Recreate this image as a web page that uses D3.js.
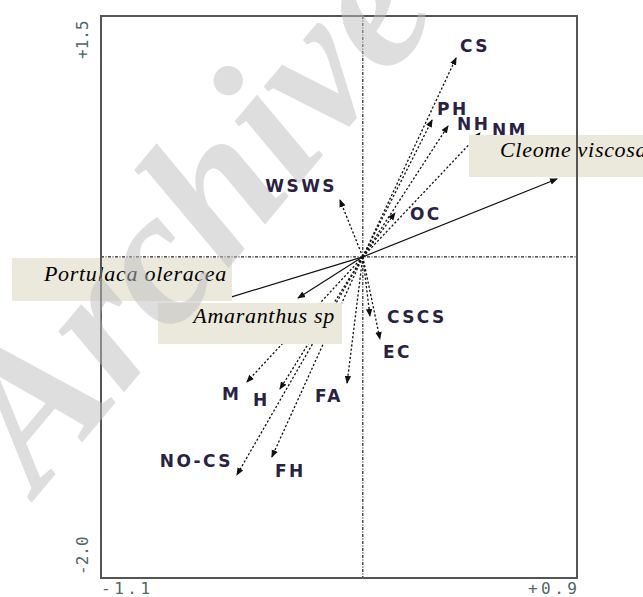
<!DOCTYPE html>
<html><head><meta charset="utf-8">
<script src="https://cdn.jsdelivr.net/npm/d3@7"></script>
<style>html,body{margin:0;padding:0;background:#fff;} svg{display:block}</style>
</head><body>
<script>
// CCA ordination biplot: soil variables (dotted arrows) and weed species (solid arrows)
const envNames = ["CS","PH","NH","NM","OC","WSWS","CSCS","EC","M","H","FA","NO-CS","FH"];
const envX = [0.392, 0.291, 0.358, 0.492, 0.135, -0.096, 0.030, 0.072, -0.487, -0.348, -0.066, -0.529, -0.382];
const envY = [1.239, 0.852, 0.815, 0.771, 0.273, 0.354, -0.368, -0.511, -0.779, -0.823, -0.785, -1.358, -1.246];

const speciesNames = ["Cleome viscosa", "Portulaca oleracea", "Amaranthus sp"];
const speciesX = [0.816, -0.592, -0.272];
const speciesY = [0.485, -0.268, -0.256];

const xDomain = [-1.1, 0.9];
const yDomain = [-2.0, 1.5];
const xTickLabels = ["-1.1", "+0.9"];
const yTickLabels = ["-2.0", "+1.5"];

// label placement relative to each arrow tip: [dx, dy, anchor]
const envLabelPos = [
  [4, -6, "start"], [5, -5, "start"], [9, 4, "start"], [12, 3, "start"],
  [15, 7, "start"], [-3, -8, "end"], [17, 7, "start"], [3, 19, "start"],
  [-25, 18, "start"], [-27, 17, "start"], [-32, 19, "start"], [-4, -8, "end"],
  [3, 20, "start"]
];
// species label boxes: [x, y, w, h, textX, textY, anchor]
const speciesBoxes = [
  [469, 135, 200, 42, 500, 157, "start"],
  [12, 258, 220, 43, 227, 281, "end"],
  [158, 303, 184, 41, 335, 323, "end"]
];

const W = 643, H = 597;
const svg = d3.select("body").append("svg").attr("width", W).attr("height", H);

const x = d3.scaleLinear().domain(xDomain).range([101, 577]);
const y = d3.scaleLinear().domain(yDomain).range([578, 16]);

const defs = svg.append("defs");
defs.append("marker").attr("id", "head")
  .attr("viewBox", "0 -4 8 8").attr("refX", 7).attr("refY", 0)
  .attr("markerWidth", 8).attr("markerHeight", 8)
  .attr("markerUnits", "userSpaceOnUse").attr("orient", "auto")
  .append("path").attr("d", "M0,-3.2L8,0L0,3.2Z").attr("fill", "#111");

// zero axes through the origin
svg.append("line")
  .attr("x1", x(0)).attr("x2", x(0)).attr("y1", y(yDomain[1])).attr("y2", y(yDomain[0]))
  .attr("stroke", "#222").attr("stroke-width", 1.2).attr("stroke-dasharray", "3,1.5,1,1.5");
svg.append("line")
  .attr("x1", x(xDomain[0])).attr("x2", x(xDomain[1])).attr("y1", y(0)).attr("y2", y(0))
  .attr("stroke", "#222").attr("stroke-width", 1.2).attr("stroke-dasharray", "3,1.5,1,1.5");

// environmental variable arrows
const env = envNames.map((n, i) => ({ name: n, x: envX[i], y: envY[i], pos: envLabelPos[i] }));
svg.append("g").selectAll("line").data(env).join("line")
  .attr("x1", x(0)).attr("y1", y(0))
  .attr("x2", d => x(d.x)).attr("y2", d => y(d.y))
  .attr("stroke", "#111").attr("stroke-width", 1.3)
  .attr("stroke-dasharray", "2.2,2")
  .attr("marker-end", "url(#head)");

svg.append("g").selectAll("text").data(env).join("text")
  .attr("x", d => x(d.x) + d.pos[0]).attr("y", d => y(d.y) + d.pos[1])
  .attr("text-anchor", d => d.pos[2])
  .attr("font-family", "DejaVu Sans").attr("font-weight", "bold")
  .attr("font-size", 17).attr("letter-spacing", 2.4)
  .attr("fill", "#2a2245")
  .text(d => d.name);

// species arrows
const species = speciesNames.map((n, i) => ({ name: n, x: speciesX[i], y: speciesY[i], box: speciesBoxes[i] }));
svg.append("g").selectAll("line").data(species).join("line")
  .attr("x1", x(0)).attr("y1", y(0))
  .attr("x2", d => x(d.x)).attr("y2", d => y(d.y))
  .attr("stroke", "#111").attr("stroke-width", 1.2)
  .attr("marker-end", "url(#head)");

const sp = svg.append("g").selectAll("g").data(species).join("g");
sp.append("rect")
  .attr("x", d => d.box[0]).attr("y", d => d.box[1])
  .attr("width", d => d.box[2]).attr("height", d => d.box[3])
  .attr("fill", "#ebe8dc");
sp.append("text")
  .attr("x", d => d.box[4]).attr("y", d => d.box[5])
  .attr("text-anchor", d => d.box[6])
  .attr("font-family", "'Liberation Serif', 'Times New Roman', serif").attr("font-style", "italic")
  .attr("font-size", 22).attr("letter-spacing", 0.7).attr("fill", "#000")
  .text(d => d.name);

// plot frame
svg.append("rect")
  .attr("x", x(xDomain[0])).attr("y", y(yDomain[1]))
  .attr("width", x(xDomain[1]) - x(xDomain[0])).attr("height", y(yDomain[0]) - y(yDomain[1]))
  .attr("fill", "none").attr("stroke", "#555").attr("stroke-width", 2);

// axis extent labels
const tickStyle = s => s.attr("font-family", "'DejaVu Sans Mono'").attr("font-size", 16).attr("fill", "#4f6768");
svg.append("text").call(tickStyle).attr("x", x(xDomain[0])).attr("y", 594)
  .attr("letter-spacing", 3.5).text(xTickLabels[0]);
svg.append("text").call(tickStyle).attr("x", x(xDomain[1]) + 3.5).attr("y", 594)
  .attr("text-anchor", "end").attr("letter-spacing", 3.5).text(xTickLabels[1]);
svg.append("text").call(tickStyle)
  .attr("transform", `translate(88,${y(yDomain[1]) + 43}) rotate(-90)`).text(yTickLabels[1]);
svg.append("text").call(tickStyle)
  .attr("transform", `translate(88,${y(yDomain[0]) - 3}) rotate(-90)`).text(yTickLabels[0]);

// faint archive stamp across the plot
svg.append("text")
  .attr("transform", "translate(38,495) rotate(-50)")
  .attr("font-family", "'Liberation Serif', serif").attr("font-style", "italic").attr("font-weight", "bold")
  .attr("font-size", 195).attr("fill", "#bdbdbd").attr("fill-opacity", 0.5)
  .text("Archive of SID");
</script>
</body></html>
